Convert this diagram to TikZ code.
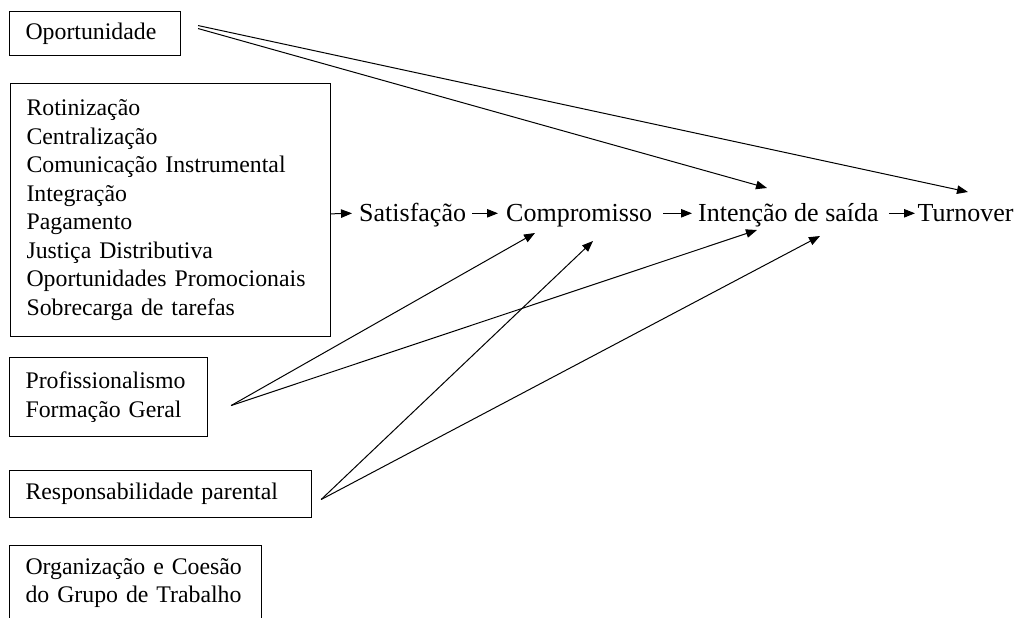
\documentclass[tikz,border=0pt]{standalone}
\usepackage{fontspec}
\setmainfont{Liberation Serif}
\usetikzlibrary{arrows.meta}
\begin{document}
\begin{tikzpicture}[x=1pt,y=-1pt,
 boxnode/.style={draw,line width=1.1pt,anchor=north west,inner xsep=16pt,inner ysep=0pt,align=left,font=\fontsize{23.8}{28.5}\selectfont},
 lbl/.style={anchor=base west,inner sep=0pt,font=\fontsize{26}{30}\selectfont},
 arr/.style={line width=1pt,-{Triangle[length=11pt,width=8.5pt]}},
]
\useasboundingbox (0,0) rectangle (1018,618);

\node[boxnode,text width=139pt,minimum height=44pt] (op) at (9,11) {Oportunidade};
\node[boxnode,text width=288pt,minimum height=253pt] (big) at (10,83) {Rotinização\\Centralização\\Comunicação Instrumental\\Integração\\Pagamento\\Justiça Distributiva\\Oportunidades Promocionais\\Sobrecarga de tarefas};
\node[boxnode,text width=166pt,minimum height=79pt] (prof) at (9,357) {Profissionalismo\\Formação Geral};
\node[boxnode,text width=270pt,minimum height=47pt] (resp) at (9,470) {Responsabilidade parental};
\node[boxnode,text width=220pt,minimum height=75pt] (org) at (9,545) {Organização e Coesão\\do Grupo de Trabalho};

\node[lbl] (sat) at (359,221.7) {Satisfação};
\node[lbl] (comp) at (506,221.7) {Compromisso};
\node[lbl] (int) at (698,221.7) {Intenção de saída};
\node[lbl] (turn) at (917.5,221.7) {Turnover};

\draw[arr] ([shift={(0,3.8)}]big.east) -- ([shift={(-7,-8.4)}]sat.base west);
\draw[arr] ([shift={(6,-8.4)}]sat.base east) -- ([shift={(-8,-8.4)}]comp.base west);
\draw[arr] ([shift={(11,-8.4)}]comp.base east) -- ([shift={(-6,-8.4)}]int.base west);
\draw[arr] ([shift={(10,-8.4)}]int.base east) -- ([shift={(-2.5,-8.4)}]turn.base west);

\draw[arr] ([shift={(17,-8)}]op.east) -- ([shift={(50.5,-29.7)}]turn.base west);
\draw[arr] ([shift={(17,-5)}]op.east) -- ([shift={(69,-33.7)}]int.base west);

\draw[arr] ([shift={(23,8.5)}]prof.east) -- ([shift={(29,11.3)}]comp.base west);
\draw[arr] ([shift={(23,8.5)}]prof.east) -- ([shift={(59,8.3)}]int.base west);

\draw[arr] ([shift={(9,5.5)}]resp.east) -- ([shift={(87,19.3)}]comp.base west);
\draw[arr] ([shift={(9,5.5)}]resp.east) -- ([shift={(122,14.3)}]int.base west);
\end{tikzpicture}
\end{document}
